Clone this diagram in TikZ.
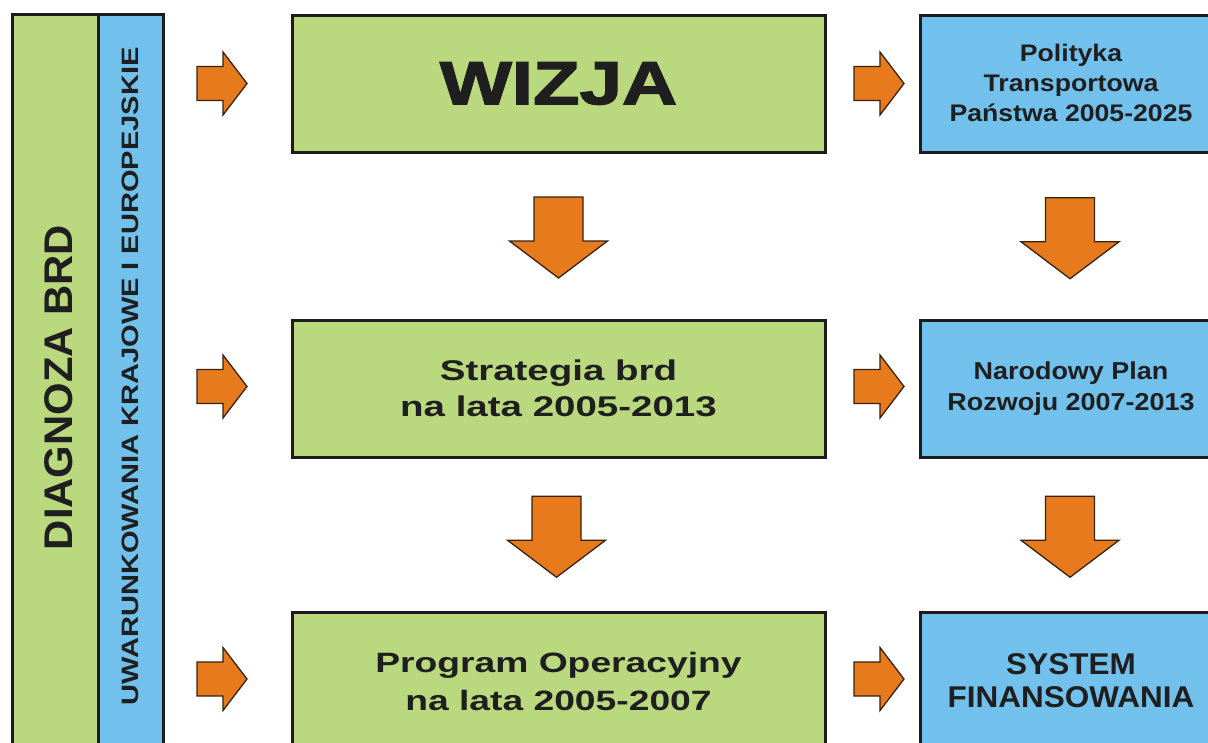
\documentclass[tikz,border=0pt]{standalone}
\usepackage{fontspec}
\setmainfont{Liberation Sans}
\newfontfamily\heavyfont{Liberation Sans}[BoldFeatures={FakeBold=2}]
\usepackage{graphicx}
\usetikzlibrary{calc}
\definecolor{boxgreen}{RGB}{186,217,127}
\definecolor{boxblue}{RGB}{114,193,237}
\definecolor{arroworange}{RGB}{232,122,30}
\definecolor{edgedark}{RGB}{28,28,28}
\definecolor{arrowedge}{RGB}{55,35,15}
\newcommand{\boxtext}[5]{\raisebox{#5}[\height][\depth]{\scalebox{#1}[1]{\fontsize{#2}{#3}\selectfont\begin{tabular}{@{}c@{}}#4\end{tabular}}}}
\begin{document}
\begin{tikzpicture}[x=1pt,y=-1pt,
  box/.style={draw=edgedark, line width=3pt, inner sep=0pt, font=\bfseries, text=black!88},
  greenbox/.style={box, fill=boxgreen, minimum width=533, minimum height=137},
  bluebox/.style={box, fill=boxblue, minimum width=302, minimum height=137},
  barstyle/.style={draw=edgedark, line width=3pt, inner sep=0pt, rotate=90, minimum width=746},
  vlabel/.style={inner sep=0pt, rotate=90, font=\bfseries, text=black!88},
  arrowstyle/.style={fill=arroworange, draw=arrowedge, line width=1.3pt, line join=miter},
  rarrow/.pic={\draw[arrowstyle] (-25,-17) -- (1,-17) -- (1,-31.5) -- (25,0) -- (1,31.5) -- (1,17) -- (-25,17) -- cycle;},
  darrow/.pic={\draw[arrowstyle] (-24.5,-40.5) -- (24.5,-40.5) -- (24.5,3.5) -- (49,3.5) -- (0,40.5) -- (-49,3.5) -- (-24.5,3.5) -- cycle;}
]
\useasboundingbox (0,0) rectangle (1208,742);
\clip (0,0) rectangle (1208,742);
\fill[white] (0,0) rectangle (1208,742);

% left bars
\node[barstyle, fill=boxgreen, minimum height=86] (diagbar) at (55,387) {};
\node[barstyle, fill=boxblue, minimum height=65] (uwarbar) at (130.5,387) {};
\node[vlabel] (diag) at (59,387.5) {\scalebox{1.045}[1]{\fontsize{40}{40}\selectfont DIAGNOZA BRD}};
\node[vlabel] (uwar) at (130,376.5) {\scalebox{1.225}[1]{\fontsize{23.7}{24}\selectfont UWARUNKOWANIA KRAJOWE I EUROPEJSKIE}};

% green column
\node[greenbox] (wizja) at (558.5,83.5) {\scalebox{1.25}[1]{\fontsize{61}{61}\selectfont\heavyfont\bfseries WIZJA}};
\node[greenbox] (strat) at (558.5,388.5) {\boxtext{1.35}{28.5}{36}{Strategia brd\\na lata 2005-2013}{-3pt}};
\node[greenbox] (prog) at (558.5,681) {\boxtext{1.33}{28}{38}{Program Operacyjny\\na lata 2005-2007}{-3pt}};

% blue column
\node[bluebox] (polit) at (1071,84) {\boxtext{1.11}{24}{30}{Polityka\\Transportowa\\Państwa 2005-2025}{-1pt}};
\node[bluebox] (npr) at (1071,388.5) {\boxtext{1.1}{24.5}{31}{Narodowy Plan\\Rozwoju 2007-2013}{0pt}};
\node[bluebox] (sys) at (1071,681) {\boxtext{1.05}{30}{33}{SYSTEM\\FINANSOWANIA}{-3pt}};

% right-pointing arrows
\pic (a1) at ($(wizja.west)+(-68.5,0)$) {rarrow};
\pic (a2) at ($(strat.west)+(-68.5,-2)$) {rarrow};
\pic (a3) at ($(prog.west)+(-68.5,-2)$) {rarrow};
\pic (b1) at ($(wizja.east)+(52.5,0)$) {rarrow};
\pic (b2) at ($(strat.east)+(52.5,-2)$) {rarrow};
\pic (b3) at ($(prog.east)+(52.5,-2)$) {rarrow};

% downward arrows
\pic (d1) at ($(wizja.south)!0.5!(strat.north)+(0,1.5)$) {darrow};
\pic (d2) at ($(strat.south)!0.5!(prog.north)+(-2,2)$) {darrow};
\pic (d3) at ($(polit.south)!0.5!(npr.north)+(-1,2)$) {darrow};
\pic (d4) at ($(npr.south)!0.5!(sys.north)+(-1,2)$) {darrow};
\end{tikzpicture}
\end{document}
